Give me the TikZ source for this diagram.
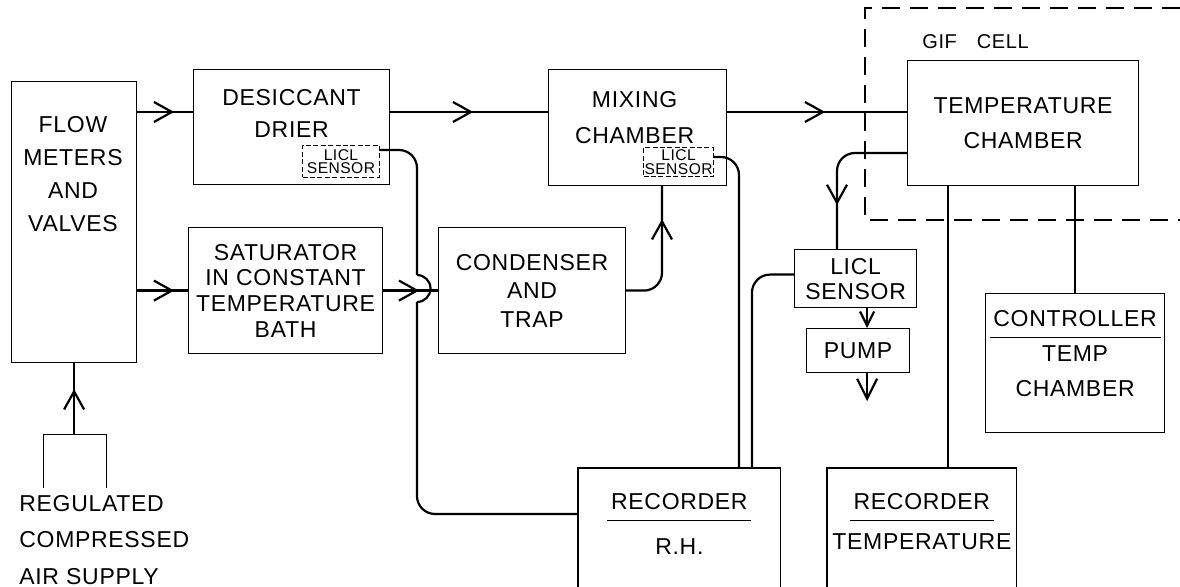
\documentclass[tikz,border=0pt]{standalone}
\usepackage{fontspec}
\setmainfont{Liberation Sans}[LetterSpace=3]
\usetikzlibrary{arrows.meta,positioning,calc,decorations.markings}
\tikzset{
  unit/.style={draw, line width=0.6pt, align=center, inner sep=1pt, anchor=north west, font=\lettering{12pt}},
  sensor/.style={draw, line width=0.5pt, dash pattern=on 2.5pt off 1.2pt, align=center, inner sep=0.5pt, anchor=north west, font=\fontsize{7.8}{6.8}\selectfont},
  frame/.style={inner sep=0pt, anchor=north west},
  lettering/.style={align=center, inner sep=0pt},
  pipe/.style={line width=1.1pt},
  wire/.style={line width=0.6pt},
  cell/.style={line width=0.6pt, dash pattern=on 9pt off 5pt},
  flowtip/.style={postaction={decorate}, decoration={markings, mark=at position #1 with {\arrow{Straight Barb[length=9pt,width=10pt]}}}},
  endtip/.style={-{Straight Barb[length=#1,width=#1]}}
}
\newcommand{\lettering}[1]{\fontsize{11.5}{#1}\selectfont}
\newcommand{\headline}[1]{\underline{\,\raisebox{0pt}[\height][4pt]{#1}\,}}

\begin{document}
\begin{tikzpicture}[x=0.5pt,y=-0.5pt]
  \useasboundingbox (0,0) rectangle (1180,587);

  % air supply side
  \node[unit, minimum width=62.5pt, minimum height=140.5pt] (flow) at (11,81) {};
  \node[lettering, font=\lettering{16.5pt}] (flowText) at (73,174) {FLOW\\METERS\\AND\\VALVES};
  \node[lettering, align=left, anchor=north west, font=\lettering{18.25pt}] (supplyText) at (19,495) {REGULATED\\COMPRESSED\\AIR SUPPLY};
  \coordinate (supply) at ($(flow.south)+(0,71)$);

  % dry and wet branches
  \node[unit, minimum width=98pt, minimum height=57.5pt] (desiccant) at (193,69) {};
  \node[lettering, font=\lettering{16pt}] (desiccantText) at ($(desiccant.north)+(0,44)$) {DESICCANT\\DRIER};
  \node[sensor, minimum width=38.5pt, minimum height=16pt] (dsens) at (302,145) {LICL\\SENSOR};
  \node[unit, font=\lettering{12.8pt}, minimum width=97pt, minimum height=63pt] (saturator) at (188,227) {SATURATOR\\IN CONSTANT\\TEMPERATURE\\BATH};
  \node[unit, font=\lettering{14.25pt}, minimum width=93.5pt, minimum height=63pt] (condenser) at (438,227) {CONDENSER\\AND\\TRAP};
  \node[unit, minimum width=89pt, minimum height=58pt] (mixing) at (548,69) {};
  \node[lettering, font=\lettering{18pt}] (mixingText) at ($(mixing.north)+(-3,49)$) {MIXING\\CHAMBER};
  \node[sensor, minimum width=35pt, minimum height=14.5pt] (msens) at (643,147) {LICL\\SENSOR};

  % gif cell
  \draw[cell] (1180,8) -| (865,220) -- (1180,220);
  \node[lettering, anchor=west] (gif) at (922,42) {GIF\hspace{10pt}CELL};
  \node[unit, font=\lettering{17.5pt}, minimum width=115.5pt, minimum height=62.5pt] (temp) at (907,60) {TEMPERATURE\\CHAMBER};
  \node[unit, font=\lettering{12.5pt}, minimum width=61pt, minimum height=29pt] (licl) at (794,249) {LICL\\SENSOR};
  \node[unit, minimum width=51.5pt, minimum height=22pt] (pump) at (806,328) {PUMP};
  \node[unit, minimum width=89.5pt, minimum height=69.5pt] (controller) at (985,293) {};
  \node[lettering, font=\lettering{17.5pt}, anchor=north] (controllerText) at ($(controller.north)+(0,17)$) {\headline{CONTROLLER}\\TEMP\\CHAMBER};

  % recorders, open at the bottom
  \node[frame, minimum width=101pt, minimum height=62pt] (rh) at (578,468) {};
  \draw[wire] (rh.south west) |- (rh.north east) -- (rh.south east);
  \node[lettering, font=\lettering{22.5pt}, anchor=north] (rhText) at ($(rh.north)+(0,25)$) {\headline{RECORDER}\\R.H.};
  \node[frame, minimum width=94.5pt, minimum height=62pt] (rectemp) at (827,468) {};
  \draw[wire] (rectemp.south west) |- (rectemp.north east) -- (rectemp.south east);
  \node[lettering, font=\lettering{20pt}, anchor=north] (rectempText) at ($(rectemp.north)+(0,25)$) {\headline{RECORDER}\\TEMPERATURE};

  % gas lines
  \draw[wire] ($(supply)+(-31,54)$) |- ($(supply)+(32,0)$) -- ++(0,54);
  \draw[pipe, flowtip=22.5pt] (supply) -- (flow.south);
  \coordinate (desIn) at ($(desiccant.north west)+(0,43)$);
  \draw[pipe, flowtip=18.5pt] (flow.east |- desIn) -- (desIn);
  \draw[pipe, flowtip=18.5pt] (flow.east |- saturator.west) -- (saturator.west);
  \draw[pipe, flowtip=41.5pt] (desIn -| desiccant.east) -- (desIn -| mixing.west);
  \draw[pipe, flowtip=49pt] (desIn -| mixing.east) -- (desIn -| temp.west);
  \draw[pipe, flowtip=18pt] (saturator.east) -- (condenser.west);
  \coordinate (mixIn) at ($(mixing.south west)+(114,0)$);
  \draw[pipe, rounded corners=9pt, flowtip=-16.5pt] (condenser.east) -| (mixIn);
  \coordinate (liclIn) at ($(licl.north west)+(43,0)$);
  \draw[pipe, rounded corners=9pt, flowtip=-22pt] ($(temp.north west)+(0,93)$) -| (liclIn);
  \coordinate (pumpIn) at ($(pump.north)+(9,0)$);
  \draw[pipe, endtip=7pt] (licl.south -| pumpIn) -- (pumpIn);
  \coordinate (exhaust) at ($(pump.south)+(9,28)$);
  \draw[pipe, endtip=10pt] (pumpIn |- pump.south) -- (exhaust);

  % sensor and signal lines
  \coordinate (hopTop) at (417,275);
  \coordinate (hopBot) at (417,302);
  \coordinate (rhIn) at ($(rh.north west)+(0,46)$);
  \draw[pipe, rounded corners=9pt] ($(dsens.north east)+(0,5)$) -| (hopTop);
  \draw[pipe] (hopTop) arc[start angle=-90, end angle=90, radius=13.5];
  \draw[pipe, rounded corners=9pt] (hopBot) |- (rhIn);
  \coordinate (rhA) at ($(rh.north west)+(161,0)$);
  \coordinate (rhB) at ($(rh.north west)+(174,0)$);
  \draw[pipe, rounded corners=9pt] ($(msens.north east)+(0,10)$) -| (rhA);
  \draw[pipe, rounded corners=9pt] ($(licl.west)+(0,-4)$) -| (rhB);
  \coordinate (tempOut) at ($(temp.south west)+(41,0)$);
  \draw[pipe] (tempOut) -- (tempOut |- rectemp.north);
  \draw[pipe] (controller.north |- temp.south) -- (controller.north);
\end{tikzpicture}
\end{document}
